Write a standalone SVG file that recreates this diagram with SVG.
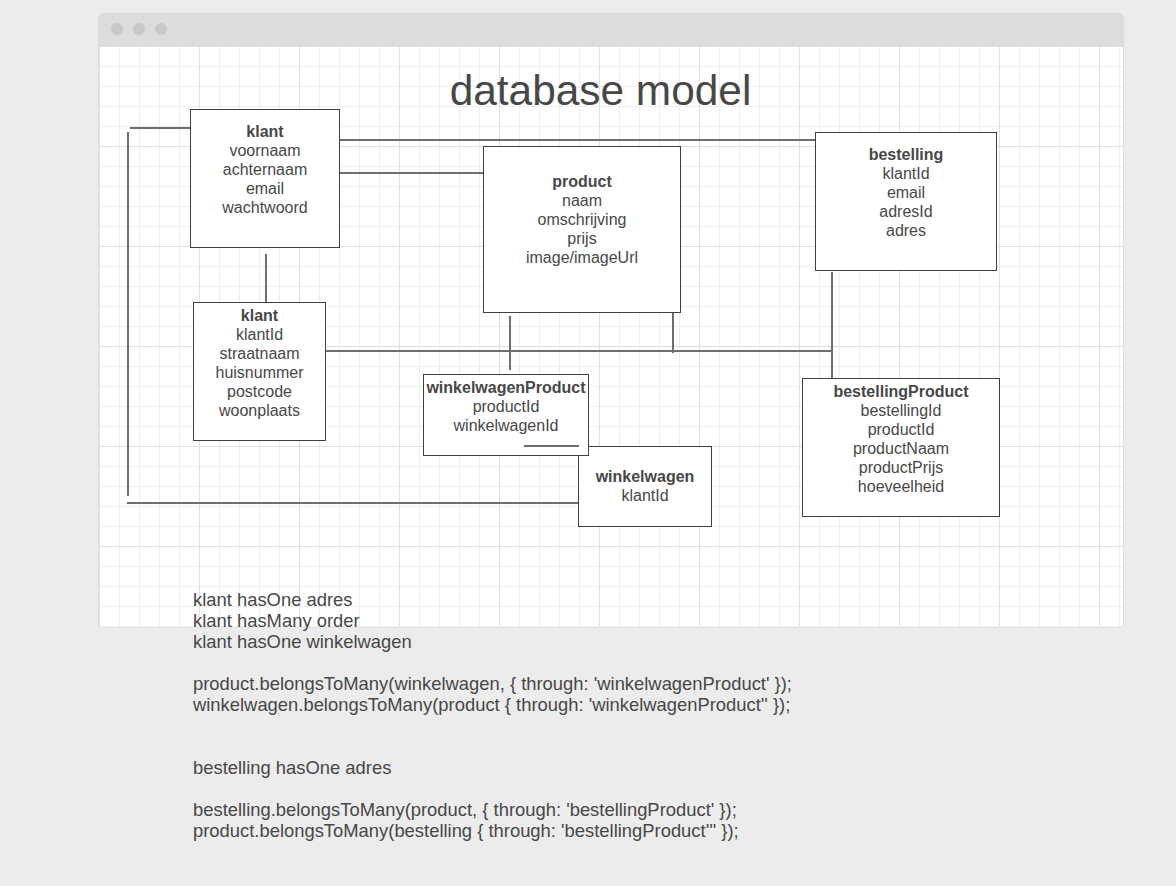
<svg xmlns="http://www.w3.org/2000/svg" width="1176" height="886" viewBox="0 0 1176 886">
<style>
.box{fill:#ffffff;stroke:#3f3f3f;stroke-width:1}
.conn line{stroke:#6e6e6e;stroke-width:2;fill:none}
.t{font-family:"Liberation Sans",Arial,sans-serif;font-size:16px;fill:#474747;text-anchor:middle}
.b{font-weight:bold}
.code{font-family:"Liberation Sans",Arial,sans-serif;font-size:18.4px;fill:#474747}
</style>
<defs>
<pattern id="minor" patternUnits="userSpaceOnUse" x="99" y="46" width="20" height="20">
<path d="M0.5 0V20M0 0.5H20" stroke="#efefef" stroke-width="1" fill="none"/>
</pattern>
<pattern id="major" patternUnits="userSpaceOnUse" x="99" y="46" width="100" height="100">
<path d="M0.5 0V100M0 0.5H100" stroke="#e0e0e0" stroke-width="1" fill="none"/>
</pattern>
</defs>
<rect x="0" y="0" width="1176" height="886" fill="#ececec"/>
<g id="window">
<path d="M98 46V18a5 5 0 0 1 5-5H1119a5 5 0 0 1 5 5V46Z" fill="#dcdcdc"/>
<circle cx="117" cy="29" r="6" fill="#c8c8c8"/>
<circle cx="139" cy="29" r="6" fill="#c8c8c8"/>
<circle cx="161" cy="29" r="6" fill="#c8c8c8"/>
<rect x="98.5" y="46.5" width="1025" height="580.5" fill="#ffffff" stroke="#dedede" stroke-width="1"/>
<rect x="99" y="46" width="1024" height="580" fill="url(#minor)"/>
<rect x="99" y="46" width="1024" height="580" fill="url(#major)"/>
</g>
<text class="t" x="600.5" y="105" style="font-size:42.4px">database model</text>
<g id="winkelwagen">
<rect class="box" x="578.5" y="446.5" width="133" height="80"/>
<text class="t b" x="645" y="482">winkelwagen</text>
<text class="t" x="645" y="501">klantId</text>
</g>
<g id="klant">
<rect class="box" x="190.5" y="109.5" width="149" height="138"/>
<text class="t b" x="265" y="137">klant</text>
<text class="t" x="265" y="156">voornaam</text>
<text class="t" x="265" y="175">achternaam</text>
<text class="t" x="265" y="194">email</text>
<text class="t" x="265" y="213">wachtwoord</text>
</g>
<g id="adres">
<rect class="box" x="193.5" y="302.5" width="132" height="138"/>
<text class="t b" x="259.5" y="321">klant</text>
<text class="t" x="259.5" y="340">klantId</text>
<text class="t" x="259.5" y="359">straatnaam</text>
<text class="t" x="259.5" y="378">huisnummer</text>
<text class="t" x="259.5" y="397">postcode</text>
<text class="t" x="259.5" y="416">woonplaats</text>
</g>
<g id="product">
<rect class="box" x="483.5" y="146.5" width="197" height="166"/>
<text class="t b" x="582" y="187">product</text>
<text class="t" x="582" y="206">naam</text>
<text class="t" x="582" y="225">omschrijving</text>
<text class="t" x="582" y="244">prijs</text>
<text class="t" x="582" y="263">image/imageUrl</text>
</g>
<g id="bestelling">
<rect class="box" x="815.5" y="132.5" width="181" height="138"/>
<text class="t b" x="906" y="160">bestelling</text>
<text class="t" x="906" y="179">klantId</text>
<text class="t" x="906" y="198">email</text>
<text class="t" x="906" y="217">adresId</text>
<text class="t" x="906" y="236">adres</text>
</g>
<g id="bestellingProduct">
<rect class="box" x="802.5" y="378.5" width="197" height="138"/>
<text class="t b" x="901" y="397">bestellingProduct</text>
<text class="t" x="901" y="416">bestellingId</text>
<text class="t" x="901" y="435">productId</text>
<text class="t" x="901" y="454">productNaam</text>
<text class="t" x="901" y="473">productPrijs</text>
<text class="t" x="901" y="492">hoeveelheid</text>
</g>
<g id="winkelwagenProduct">
<rect class="box" x="423.5" y="374.5" width="165" height="81"/>
<text class="t b" x="506" y="393">winkelwagenProduct</text>
<text class="t" x="506" y="412">productId</text>
<text class="t" x="506" y="431">winkelwagenId</text>
</g>
<g id="connectors" class="conn">
<line x1="130" y1="128" x2="190" y2="128"/>
<line x1="128" y1="132" x2="128" y2="496"/>
<line x1="127" y1="503" x2="578" y2="503"/>
<line x1="340" y1="140" x2="815" y2="140"/>
<line x1="340" y1="173" x2="483" y2="173"/>
<line x1="266" y1="254" x2="266" y2="302"/>
<line x1="326" y1="351" x2="833" y2="351"/>
<line x1="510" y1="316" x2="510" y2="370"/>
<line x1="673" y1="313" x2="673" y2="353"/>
<line x1="832" y1="272" x2="832" y2="378"/>
<line x1="524" y1="446" x2="579" y2="446"/>
</g>
<g id="notes" class="code">
<text x="193" y="606">klant hasOne adres</text>
<text x="193" y="627">klant hasMany order</text>
<text x="193" y="648">klant hasOne winkelwagen</text>
<text x="193" y="690">product.belongsToMany(winkelwagen, { through: 'winkelwagenProduct' });</text>
<text x="193" y="711">winkelwagen.belongsToMany(product { through: 'winkelwagenProduct'' });</text>
<text x="193" y="774">bestelling hasOne adres</text>
<text x="193" y="816">bestelling.belongsToMany(product, { through: 'bestellingProduct' });</text>
<text x="193" y="837">product.belongsToMany(bestelling { through: 'bestellingProduct''' });</text>
</g>
</svg>
